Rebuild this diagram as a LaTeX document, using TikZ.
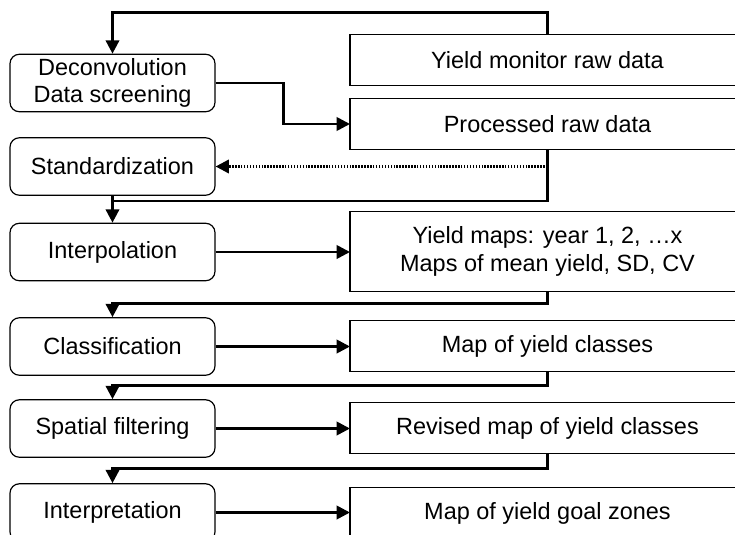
\documentclass[tikz,border=0pt]{standalone}
\usepackage{fontspec}
\setmainfont{Liberation Sans}
\usetikzlibrary{arrows.meta}

\tikzset{every picture/.style={line width=0.75pt}}
\tikzset{
  stepbox/.style={draw, rounded corners=7pt, line width=0.9pt, minimum width=153.75pt, minimum height=43.1pt, inner sep=0pt, align=center, font=\fontsize{17.6}{20.5}\selectfont},
  databox/.style={anchor=west, minimum width=292.5pt, minimum height=37.5pt, inner sep=0pt},
  datatext/.style={align=center, font=\fontsize{17.6}{21}\selectfont},
  frame/.style={line width=0.9pt},
  flow/.style={line width=2pt, -{Triangle[length=10pt,width=10pt]}},
  link/.style={line width=2pt},
  dotflow/.style={line width=2pt, dash pattern={on 1.1pt off 1.1pt}, -{Triangle[length=10pt,width=10pt]}}
}

\begin{document}
\begin{tikzpicture}[x=0.75pt,y=0.75pt,yscale=-1,xscale=1]
%set diagram to 735 x 535
\useasboundingbox (0,0) rectangle (735,535);
\clip (0,0) rectangle (735,535);

% Step Nodes
\node (deconv) at (112.5,83) [stepbox] {Deconvolution\\Data screening};
\node (stand) at (112.5,166.5) [stepbox] {Standardization};
\node (interp) at (112.5,252) [stepbox] {Interpolation};
\node (classif) at (112.5,346.5) [stepbox] {Classification};
\node (spatial) at (112.5,428.5) [stepbox] {Spatial filtering};
\node (interpr) at (112.5,512.5) [stepbox] {Interpretation};

% Data Nodes (open to the right edge)
\coordinate (spine) at (547.5,0);
\node (rawdata) at (350,60) [databox] {};
\node (procdata) at (350,124) [databox] {};
\node (maps) at (350,251.5) [databox, minimum height=59.25pt] {};
\node (mapclass) at (350,346) [databox] {};
\node (revised) at (350,428) [databox] {};
\node (goal) at (350,513) [databox] {};
\foreach \d in {rawdata,procdata,maps,mapclass,revised,goal}
  \draw [frame] (\d.north east) -- (\d.north west) -- (\d.south west) -- (\d.south east);

% Text Node
\node (rawtxt) at (rawdata -| spine) [datatext] {Yield monitor raw data};
\node (proctxt) at (procdata -| spine) [datatext] {Processed raw data};
\node (mapstxt) at (maps -| spine) [datatext] {Yield maps: year 1, 2, …x\\Maps of mean yield, SD, CV};
\node (classtxt) at (mapclass -| spine) [datatext] {Map of yield classes};
\node (revtxt) at (revised -| spine) [datatext] {Revised map of yield classes};
\node (goaltxt) at (goal -| spine) [datatext] {Map of yield goal zones};

%Elbow Lines
\draw [flow] (rawdata.north -| spine) -- ++(0,-22) -| (deconv.north);
\draw [flow] (deconv.east) -- ++(68,0) |- (procdata.west);
\coordinate (join) at (112.5,201);
\draw [link] (procdata.south -| spine) |- (join);
\draw [flow] (stand.south) -- (interp.north);
\coordinate (tap) at (spine |- stand.east);
%Dotted Line
\draw [dotflow] (tap) -- (stand.east);
%Straight Lines
\draw [flow] (interp.east) -- (interp.east -| maps.west);
\draw [flow] (maps.south -| spine) -- ++(0,12) -| (classif.north);
\draw [flow] (classif.east) -- (classif.east -| mapclass.west);
\draw [flow] (mapclass.south -| spine) -- ++(0,14) -| (spatial.north);
\draw [flow] (spatial.east) -- (spatial.east -| revised.west);
\draw [flow] (revised.south -| spine) -- ++(0,15) -| (interpr.north);
\draw [flow] (interpr.east) -- (interpr.east -| goal.west);

\end{tikzpicture}
\end{document}
